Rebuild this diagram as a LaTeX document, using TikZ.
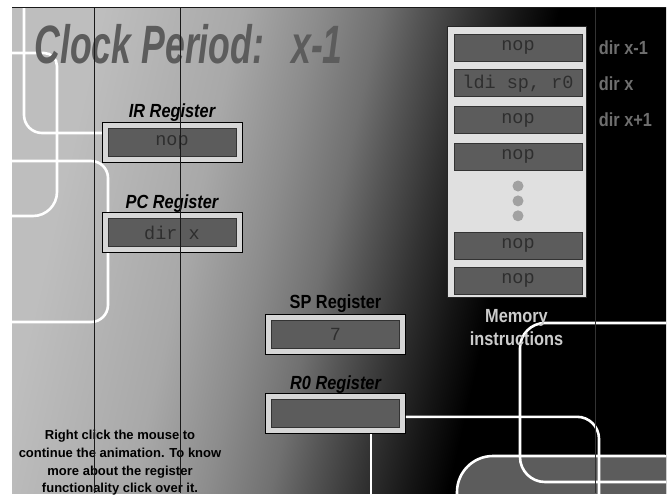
\documentclass[tikz,border=0pt]{standalone}
\usepackage{fontspec}
\setmainfont{Liberation Sans}
\setmonofont{Liberation Mono}
\newfontfamily\condfont[FakeStretch=0.86]{Liberation Sans}
\newfontfamily\titlefont[FakeStretch=0.66]{Liberation Sans}
\usetikzlibrary{positioning}

% grey steps of the background fade, light on the left, black on the right
\definecolor{bgA}{gray}{0.745}
\definecolor{bgB}{gray}{0.66}
\definecolor{bgC}{gray}{0.55}
\definecolor{bgD}{gray}{0.44}
\definecolor{bgE}{gray}{0.333}
\definecolor{bgF}{gray}{0.2}
\definecolor{bgG}{gray}{0.08}
\pgfdeclarehorizontalshading{bgfade}{100bp}{color(0bp)=(bgA); color(27bp)=(bgA);
  color(38bp)=(bgB); color(44bp)=(bgC); color(49bp)=(bgD); color(52bp)=(bgE);
  color(56bp)=(bgF); color(60bp)=(bgG); color(63bp)=(black); color(100bp)=(black)}

\begin{document}
\begin{tikzpicture}[x=1pt, y=-1pt,
  node distance=9pt,
  trace/.style={draw=white, line width=2.6pt},
  guide/.style={draw=black!90, line width=0.8pt},
  regframe/.style={draw=black, line width=0.8pt, fill=black!16,
                   minimum width=140pt, minimum height=40pt, inner sep=0pt},
  regcell/.style={draw=black!80, line width=0.8pt, fill=black!64,
                  minimum width=128pt, minimum height=28pt, inner sep=0pt,
                  text=black!82, font=\ttfamily\fontsize{18.5}{18.5}\selectfont},
  memcell/.style={regcell, minimum height=27pt},
  memdot/.style={circle, fill=black!37, minimum size=11pt, inner sep=0pt},
  regname/.style={font=\condfont\bfseries\itshape\fontsize{19}{19}\selectfont},
  spname/.style={font=\condfont\bfseries\fontsize{19}{19}\selectfont},
  dirlabel/.style={font=\condfont\bfseries\fontsize{19}{19}\selectfont, text=black!57},
  memlabel/.style={font=\condfont\bfseries\fontsize{19}{23}\selectfont, text=black!20,
                   align=center},
  helptext/.style={font=\bfseries\fontsize{13}{17.7}\selectfont, align=center}
]
\fill[white] (0,0) rectangle (669,493);
\shade[shading=bgfade, shading angle=-13] (12,7) rectangle (666,493);

% circuit traces, clipped to the panel
\begin{scope}
\clip (12,7) rectangle (666,493);
\draw[trace, rounded corners=18pt] (24,0) |- (120,133);
\draw[trace] (0,53) [rounded corners=13pt] -| (57,120) [rounded corners=24pt] |- (0,216);
\draw[trace, rounded corners=17pt] (0,161) -| (108,250) |- (0,322);
\filldraw[draw=white, line width=2.6pt, fill=black!64, rounded corners=36pt]
  (457,530) |- (700,456) -- (700,530) -- cycle;
\draw[trace, rounded corners=25pt] (700,323) -| (520,400) |- (700,482);
\coordinate (rzturn) at (599,500);
\coordinate (rzdrop) at (371,500);
\end{scope}

\node[font=\titlefont\bfseries\itshape\fontsize{54}{54}\selectfont, text=black!64,
      anchor=base west] (title) at (31,63) {Clock Period:\hspace{27pt}x-1};

% registers
\node[regframe] (irbox) at (172,142) {};
\node[regcell] (ir) at (irbox) {nop};
\node[regname, above=4pt of irbox, anchor=base] (irname) {IR Register};
\node[regframe, below=50pt of irbox] (pcbox) {};
\node[regcell] (pc) at (pcbox) {dir x};
\node[regname, above=4pt of pcbox, anchor=base] (pcname) {PC Register};

\node[regframe] (spbox) at (335.5,334) {};
\node[regcell] (sp) at (spbox) {7};
\node[spname, above=5pt of spbox, anchor=base] (spname) {SP Register};
\node[regframe, below=39pt of spbox] (rzbox) {};
\node[regcell] (rz) at (rzbox) {};
\node[regname, above=4pt of rzbox, anchor=base] (rzname) {R0 Register};

\begin{scope}
\clip (12,7) rectangle (666,493);
\draw[trace, rounded corners=22pt] ([yshift=-3pt]rzbox.east) -| (rzturn);
\draw[trace] (rzbox.south -| rzdrop) -- (rzdrop);
\end{scope}

% memory
\node[draw=black!85, line width=0.8pt, fill=black!12, minimum width=139pt,
      minimum height=271pt, inner sep=0pt] (mem) at (516.5,161.5) {};
\node[memcell] (m1) at (518,47.5) {nop};
\node[memcell, below=8pt of m1] (m2) {ldi sp, r0};
\node[memcell, below=9pt of m2] (m3) {nop};
\node[memcell, below=9pt of m3] (m4) {nop};
\node[memdot, below=9.5pt of m4] (d1) {};
\node[memdot, below=3.5pt of d1] (d2) {};
\node[memdot, below=3.5pt of d2] (d3) {};
\node[memcell, below=10.5pt of d3] (m5) {nop};
\node[memcell, below=7pt of m5] (m6) {nop};
\node[dirlabel, right=13pt of m1] (dm1) {dir x-1};
\node[dirlabel, right=13pt of m2] (dm2) {dir x};
\node[dirlabel, right=13pt of m3] (dm3) {dir x+1};
\node[memlabel, below=8pt of mem] (memname) {Memory\\instructions};

\node[helptext] (help) at (120,463) {Right click the mouse to\\continue the animation. To know\\more about the register\\functionality click over it.};

% guide lines over everything
\draw[guide] (12,7) -- (666,7);
\draw[guide] (94,7) -- (94,493);
\draw[guide] (180,7) -- (180,493);
\draw[draw=black!80, line width=0.8pt] (595,7) -- (595,493);
\end{tikzpicture}
\end{document}
